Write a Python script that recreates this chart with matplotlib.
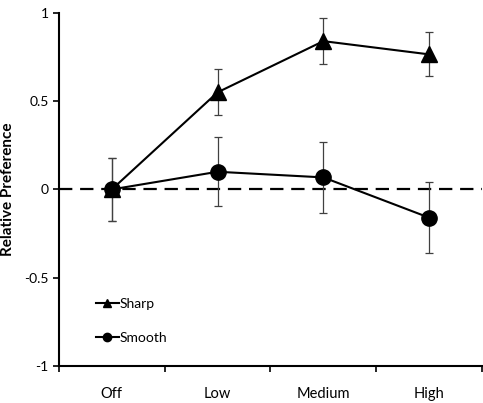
import matplotlib
matplotlib.use('Agg')
import matplotlib.pyplot as plt
from matplotlib.lines import Line2D
import numpy as np

# Data
categories = ['Off', 'Low', 'Medium', 'High']
sharp = [0.0, 0.55, 0.84, 0.765]
sharp_err = [0.18, 0.13, 0.13, 0.125]
smooth = [0.0, 0.10, 0.068, -0.16]
smooth_err = [0.18, 0.195, 0.20, 0.20]

plt.rcParams['font.family'] = ['Lato', 'DejaVu Sans']
plt.rcParams['font.size'] = 10.5

fig = plt.figure(figsize=(4.83, 4.03), dpi=100)
ax = fig.add_axes([0.122, 0.092, 0.876, 0.876])

x = np.arange(len(categories)) + 0.5

# Zero reference line
ax.axhline(0, color='black', lw=1.6, ls=(0, (6, 3.5)), zorder=1)

ax.errorbar(x, sharp, yerr=sharp_err, color='black', lw=1.5, marker='^',
            markersize=11, ecolor='#404040', elinewidth=0.9, capsize=3,
            capthick=0.9, zorder=3)
ax.errorbar(x, smooth, yerr=smooth_err, color='black', lw=1.5, marker='o',
            markersize=11, ecolor='#404040', elinewidth=0.9, capsize=3,
            capthick=0.9, zorder=3)

ax.set_xlim(0, 4)
ax.set_ylim(-1, 1)
ax.set_xticks([0, 1, 2, 3, 4])
ax.set_xticklabels([])
ax.set_xticks(x, minor=True)
ax.set_xticklabels(categories, minor=True)
ax.tick_params(axis='x', which='minor', length=0, pad=15)
ax.tick_params(axis='x', which='major', length=4, width=1.2, direction='out')
ax.set_yticks([-1, -0.5, 0, 0.5, 1])
ax.set_yticklabels(['-1', '-0.5', '0', '0.5', '1'])
ax.tick_params(axis='y', length=4, width=1.2, direction='out', labelsize=10)

for s in ['top', 'right']:
    ax.spines[s].set_visible(False)
for s in ['left', 'bottom']:
    ax.spines[s].set_linewidth(1.5)

ax.set_ylabel('Relative Preference', fontweight='bold', fontsize=11)
ax.yaxis.set_label_coords(-0.104, 0.5)

handles = [Line2D([], [], color='black', lw=1.5, marker='^', markersize=6),
           Line2D([], [], color='black', lw=1.5, marker='o', markersize=6)]
ax.legend(handles, ['Sharp', 'Smooth'], loc='upper left', fontsize=10,
          bbox_to_anchor=(0.072, 0.212), frameon=False, handlelength=1.6,
          handletextpad=0.05, labelspacing=1.55, borderpad=0)

fig.savefig('out.png', dpi=100)
